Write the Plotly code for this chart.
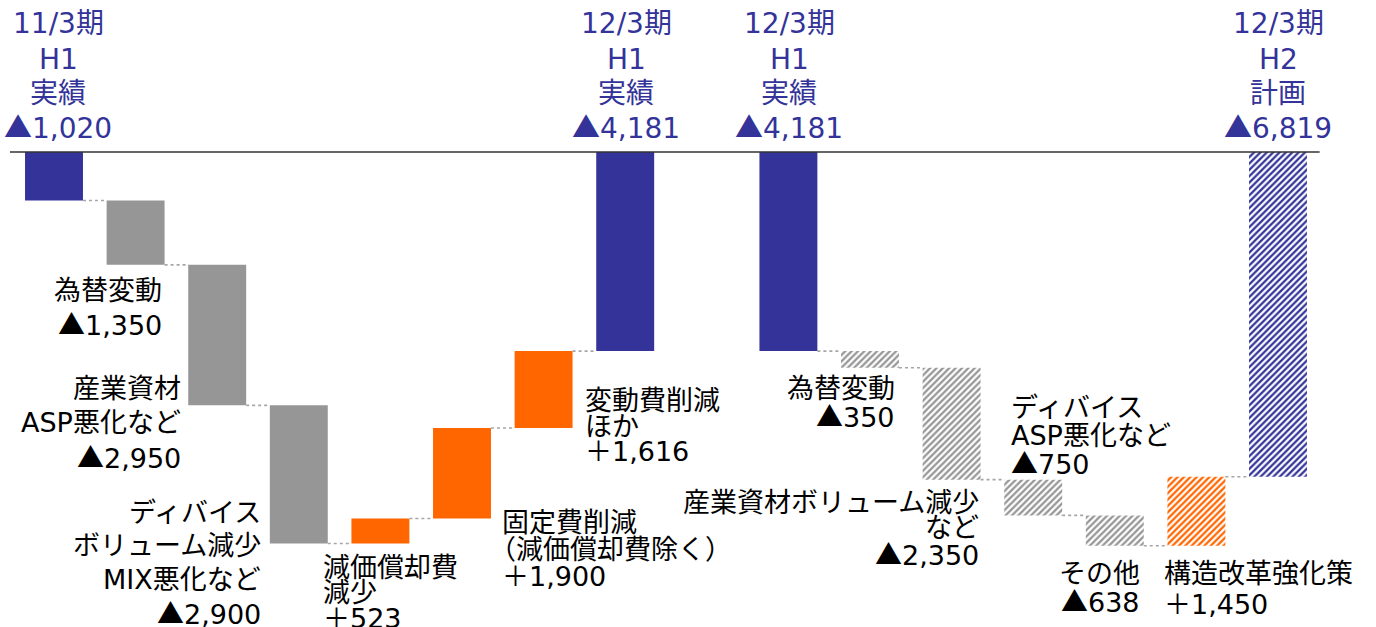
import plotly.graph_objects as go

# ---------------- data ----------------
slots = [0, 1, 2, 3, 4, 5, 6, 7, 9, 10, 11, 12, 13, 14, 15]
kinds = ["total", "delta", "delta", "delta", "delta", "delta", "delta", "total",
         "total", "delta", "delta", "delta", "delta", "delta", "total"]
values = [-1020, -1350, -2950, -2900, 523, 1900, 1616, -4181,
          -4181, -350, -2350, -750, -638, 1450, -6819]
plan = [False] * 9 + [True] * 6  # second half of the chart is a plan (hatched)

top_titles = {0: ["11/3期", "H1", "実績"], 7: ["12/3期", "H1", "実績"],
              9: ["12/3期", "H1", "実績"], 15: ["12/3期", "H2", "計画"]}
item_names = {1: ["為替変動"], 2: ["産業資材", "ASP悪化など"],
              3: ["ディバイス", "ボリューム減少", "MIX悪化など"],
              4: ["減価償却費", "減少"], 5: ["固定費削減", "（減価償却費除く）"],
              6: ["変動費削減", "ほか"], 10: ["為替変動"],
              11: ["産業資材ボリューム減少", "など"],
              12: ["ディバイス", "ASP悪化など"], 13: ["その他"],
              14: ["構造改革強化策"]}

# ---------------- styles / layout ----------------
W, H = 1376, 627
BLUE = "#333399"
GRAY = "#969696"
ORANGE = "#FF6600"
BAR_W = 0.71
TRI = "<span style='font-family:Noto Sans CJK JP'>▲</span>"
FONT = "DejaVu Sans, Noto Sans CJK JP"

# label placement (pixel): slot -> (x px, align, first line centre y px, spacing)
top_place = {0: 58, 7: 626, 9: 789, 15: 1278}
label_place = {1: (164, "right", 290, 33), 2: (183, "right", 388, 34),
               3: (263, "right", 512, 33.5), 4: (321, "left", 567, 25.5),
               5: (500, "left", 522, 27), 6: (583, "left", 400, 26),
               10: (897, "right", 388, 27), 11: (981, "right", 502, 25.5),
               12: (1009, "left", 408, 27), 13: (1142, "right", 573, 27),
               14: (1162, "left", 573, 31)}
line_xshift = {(5, 1): -13}


def fmt(v):
    return (TRI if v < 0 else "＋") + f"{abs(v):,}"


fig = go.Figure()

level = 0
ends = []
for s, k, v, p in zip(slots, kinds, values, plan):
    if k == "total":
        base = 0
        level = v
        color = BLUE
    else:
        base = level
        level = level + v
        color = ORANGE if v > 0 else GRAY
    ends.append(level)
    marker = dict(color=color, line=dict(width=0))
    if p:
        marker = dict(color=color, line=dict(width=0),
                      pattern=dict(shape="/", fgcolor=color, bgcolor="white",
                                   size=4.5, solidity=0.5, fillmode="replace"))
    fig.add_trace(go.Bar(x=[s], y=[v], base=[base], width=BAR_W,
                         marker=marker, showlegend=False, hoverinfo="skip"))

# dotted connectors between adjacent bars
for i in range(len(slots) - 1):
    if slots[i + 1] - slots[i] != 1:
        continue
    lv = ends[i]
    fig.add_trace(go.Scatter(x=[slots[i] + BAR_W / 2, slots[i + 1] - BAR_W / 2],
                             y=[lv, lv], mode="lines",
                             line=dict(color="#A6A6A6", width=1.6, dash="dot"),
                             showlegend=False, hoverinfo="skip"))

# zero line
fig.add_shape(type="line", xref="x", yref="y", x0=-0.54, x1=15.51, y0=0, y1=0,
              line=dict(color="#333333", width=1.3))

annotations = []
# top labels
for s, lines in top_titles.items():
    v = values[slots.index(s)]
    all_lines = lines + [fmt(v)]
    ys = [24, 59, 93, 126]
    for ln, yy in zip(all_lines, ys):
        annotations.append(dict(x=top_place[s] / W, y=1 - yy / H, xref="paper",
                                yref="paper", text=ln, showarrow=False,
                                xanchor="center", yanchor="middle",
                                font=dict(family=FONT, size=28, color=BLUE)))
# item labels
for s, lines in item_names.items():
    v = values[slots.index(s)]
    all_lines = lines + [fmt(v)]
    xp, al, y0, dy = label_place[s]
    for j, ln in enumerate(all_lines):
        annotations.append(dict(x=xp / W, y=1 - (y0 + j * dy) / H, xref="paper",
                                yref="paper", text=ln, showarrow=False,
                                xanchor=al, yanchor="middle", align=al,
                                xshift=line_xshift.get((s, j), 0),
                                font=dict(family=FONT, size=27, color="black")))

# axis ranges so that slot 0 centre = 54 px and slot 15 centre = 1278 px,
# value 0 at 152 px, 21 units per pixel
pxu = (1278 - 54) / 15
fig.update_layout(
    width=W, height=H, margin=dict(l=0, r=0, t=0, b=0),
    paper_bgcolor="white", plot_bgcolor="white", barmode="overlay",
    xaxis=dict(range=[-54 / pxu, 15 + (W - 1278) / pxu], visible=False,
               fixedrange=True),
    yaxis=dict(range=[-(H - 152) * 21.0, 152 * 21.0], visible=False,
               fixedrange=True),
    annotations=annotations,
)

fig.write_html("out.html", config={"displayModeBar": False},
               post_script="document.body.style.margin='0';"
                           "document.body.style.overflow='hidden';")
